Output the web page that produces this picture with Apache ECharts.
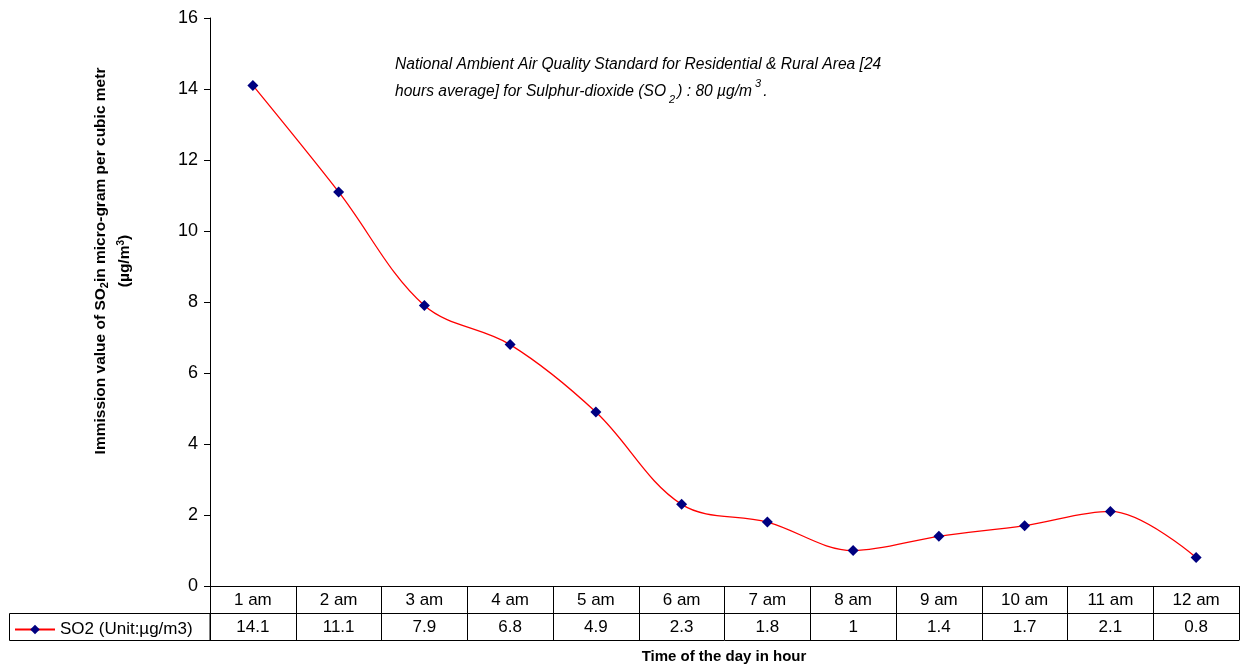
<!DOCTYPE html>
<html>
<head>
<meta charset="utf-8">
<script src="https://cdn.jsdelivr.net/npm/echarts@6/dist/echarts.min.js"></script>
<style>
  html, body { margin: 0; padding: 0; background: #fff; }
  #chart { width: 1247px; height: 669px; }
</style>
</head>
<body>
<div id="chart"></div>
<script>
// Hourly SO2 immission readings
const hours = ['1 am', '2 am', '3 am', '4 am', '5 am', '6 am', '7 am', '8 am', '9 am', '10 am', '11 am', '12 am'];
const so2Values = [14.1, 11.1, 7.9, 6.8, 4.9, 2.3, 1.8, 1, 1.4, 1.7, 2.1, 0.8];
const seriesName = 'SO2 (Unit:\u00b5g/m3)';
const yTicks = { min: 0, max: 16, interval: 2 };

const FONT = 'Liberation Sans, Arial, sans-serif';
const chart = echarts.init(document.getElementById('chart'));

const grid = { left: 210, right: 8, top: 18, bottom: 83 };
const rowH = 27;

chart.setOption({
  animation: false,
  backgroundColor: '#fff',
  textStyle: { fontFamily: FONT },
  grid: grid,
  legend: {
    left: 9,
    top: 669 - grid.bottom + rowH + 3,
    itemWidth: 40,
    itemHeight: 12,
    itemGap: 7,
    textStyle: { fontFamily: FONT, fontSize: 17, color: '#000' },
    data: [{ name: seriesName }]
  },
  xAxis: [
    {
      // hour labels row of the data table
      type: 'category',
      data: hours,
      boundaryGap: true,
      position: 'bottom',
      axisLine: { show: true, lineStyle: { color: '#000', width: 1 } },
      axisTick: { show: true, length: rowH * 2, lineStyle: { color: '#000', width: 1 } },
      axisLabel: { color: '#000', fontSize: 17, fontFamily: FONT, margin: 6, interval: 0 }
    },
    {
      // values row of the data table
      type: 'category',
      data: hours,
      boundaryGap: true,
      position: 'bottom',
      offset: rowH,
      axisLine: { show: true, lineStyle: { color: '#000', width: 1 } },
      axisTick: { show: false },
      axisLabel: {
        color: '#000', fontSize: 17, fontFamily: FONT, margin: 6, interval: 0,
        formatter: (v, i) => String(so2Values[i])
      }
    },
    {
      // bottom border of the table
      type: 'category',
      data: hours,
      position: 'bottom',
      offset: rowH * 2,
      axisLine: { show: true, lineStyle: { color: '#000', width: 1 } },
      axisTick: { show: false },
      axisLabel: { show: false }
    }
  ],
  yAxis: {
    type: 'value',
    min: yTicks.min,
    max: yTicks.max,
    interval: yTicks.interval,
    axisLine: { show: true, lineStyle: { color: '#000', width: 1 } },
    axisTick: { show: true, length: 6, lineStyle: { color: '#000' } },
    axisLabel: { color: '#000', fontSize: 18, fontFamily: FONT, margin: 12 },
    splitLine: { show: false }
  },
  series: [{
    name: seriesName,
    type: 'line',
    data: so2Values,
    smooth: 0.35,
    symbol: 'diamond',
    symbolSize: 11,
    lineStyle: { color: '#ff0000', width: 1.3 },
    itemStyle: { color: '#000080' }
  }],
  graphic: [
    {
      // legend cell of the data table
      type: 'rect',
      shape: { x: 9.5, y: 669 - grid.bottom + rowH + 0.5, width: grid.left - 9.5, height: rowH },
      style: { fill: 'none', stroke: '#000', lineWidth: 1 },
      silent: true
    },
    {
      type: 'text',
      x: 395,
      y: 51,
      style: {
        text: 'National Ambient Air Quality Standard for Residential & Rural Area [24\n{t|hours average] for Sulphur-dioxide (SO}{sub| 2}{t|) : 80 \u00b5g/m}{sup| 3}{t|.}',
        font: 'italic 15.6px ' + FONT,
        fill: '#000',
        lineHeight: 27,
        rich: {
          t: { font: 'italic 15.6px ' + FONT, fill: '#000', lineHeight: 27 },
          sub: { font: 'italic 11px ' + FONT, fill: '#000', verticalAlign: 'bottom', padding: [8, 2, 0, 0], lineHeight: 27 },
          sup: { font: 'italic 11px ' + FONT, fill: '#000', verticalAlign: 'top', padding: [0, 2, 8, 0], lineHeight: 27 }
        }
      }
    },
    {
      type: 'text',
      x: 101,
      y: 261,
      rotation: Math.PI / 2,
      style: {
        text: '{b|Immission value of SO}{s|2}{b|in micro-gram per cubic metr}',
        align: 'center',
        verticalAlign: 'middle',
        rich: {
          b: { font: 'bold 15.5px ' + FONT, fill: '#000' },
          s: { font: 'bold 11px ' + FONT, fill: '#000', padding: [8, 0, 0, 0] }
        }
      }
    },
    {
      type: 'text',
      x: 125,
      y: 261,
      rotation: Math.PI / 2,
      style: {
        text: '{b|(\u00b5g/m}{s|3}{b|)}',
        align: 'center',
        verticalAlign: 'middle',
        rich: {
          b: { font: 'bold 15.5px ' + FONT, fill: '#000' },
          s: { font: 'bold 10px ' + FONT, fill: '#000', padding: [0, 0, 8, 0] }
        }
      }
    },
    {
      type: 'text',
      x: 724,
      y: 657,
      style: {
        text: 'Time of the day in hour',
        font: 'bold 15px ' + FONT,
        fill: '#000',
        align: 'center',
        verticalAlign: 'middle'
      }
    }
  ]
});
</script>
</body>
</html>
